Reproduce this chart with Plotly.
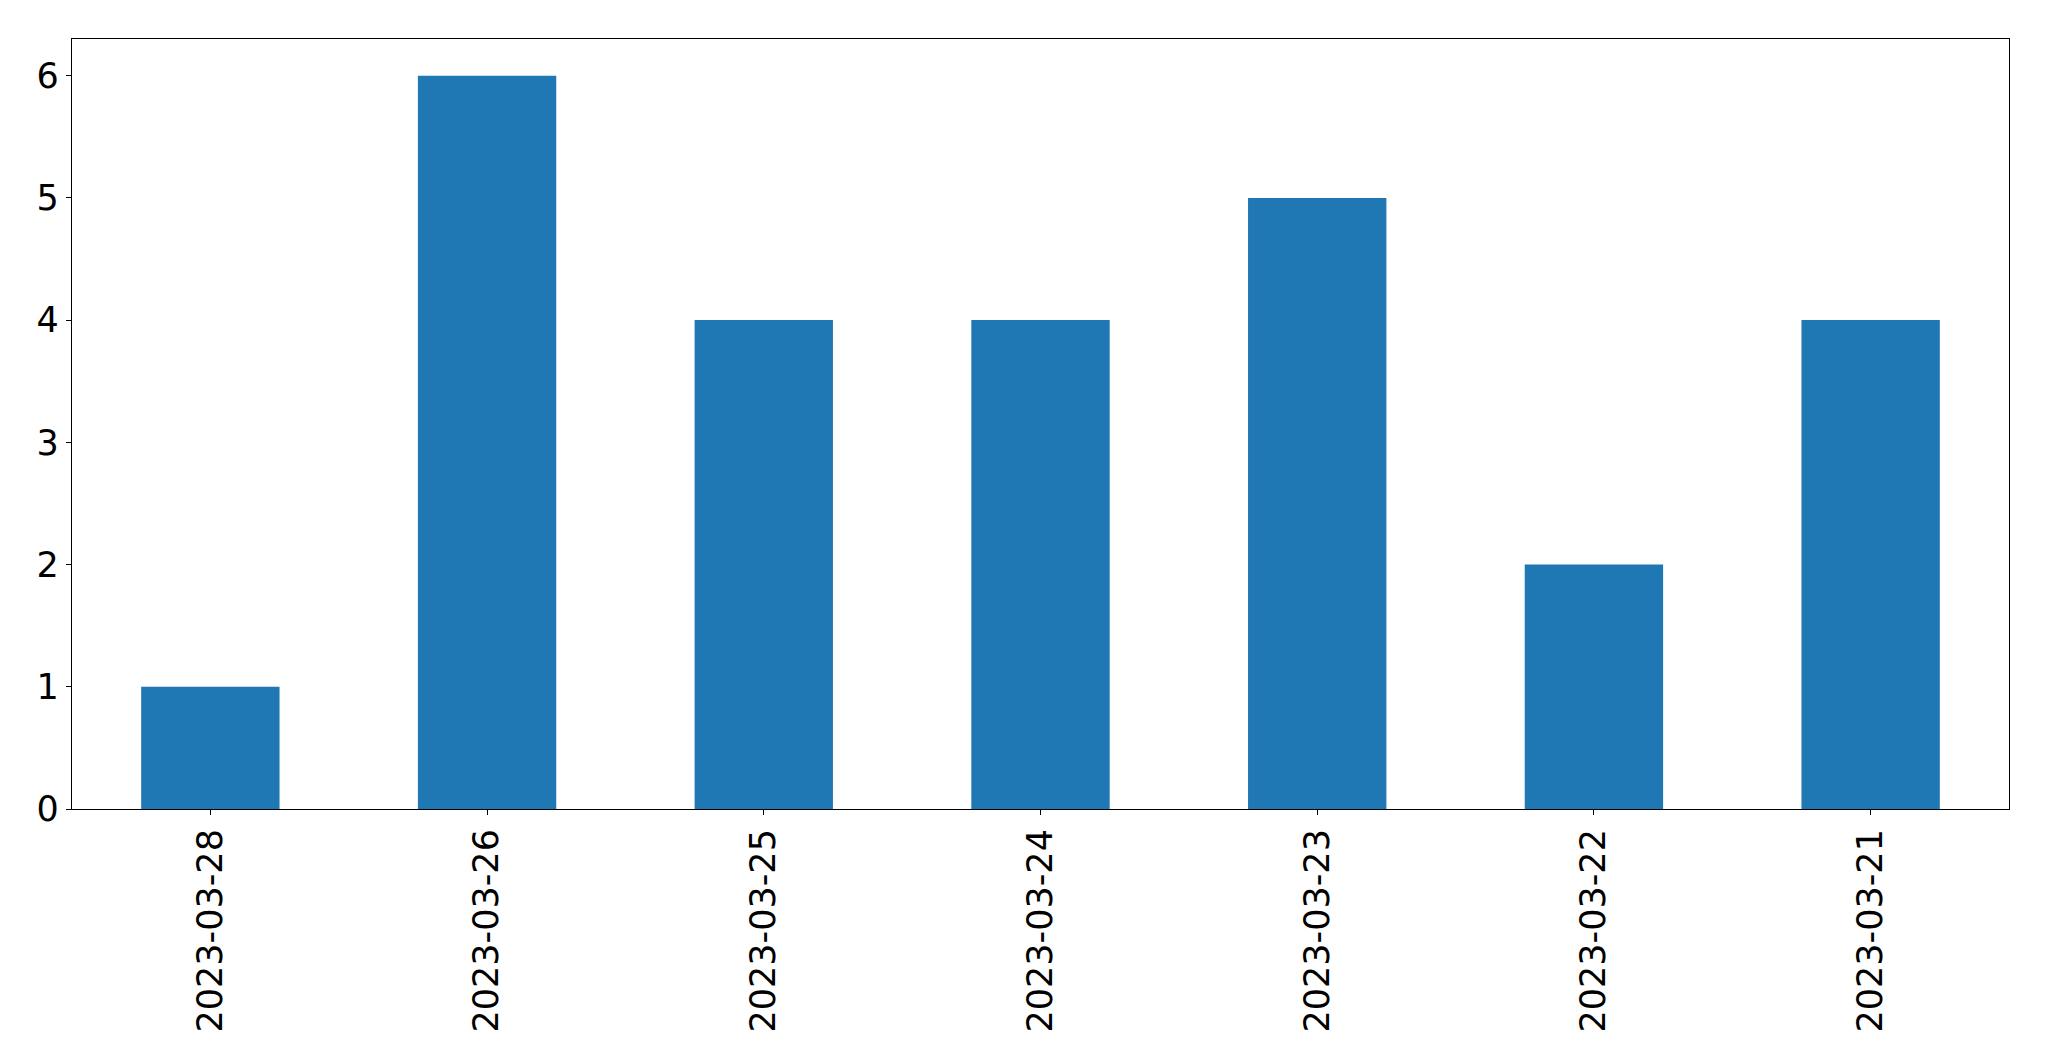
import plotly.graph_objects as go

dates = ["2023-03-28", "2023-03-26", "2023-03-25", "2023-03-24", "2023-03-23", "2023-03-22", "2023-03-21"]
counts = [1, 6, 4, 4, 5, 2, 4]

fig = go.Figure()
fig.add_trace(go.Bar(x=dates, y=counts, marker=dict(color="#1f77b4", line=dict(width=0)), width=0.5))

font = dict(family="DejaVu Sans", size=35, color="black")
fig.update_layout(
    width=2033, height=1045,
    margin=dict(l=64, r=32, t=31, b=244, autoexpand=False),
    paper_bgcolor="white", plot_bgcolor="white",
    showlegend=False,
    font=font,
)
fig.update_xaxes(
    type="category", range=[-0.5, 6.5],
    showline=True, mirror=True, linecolor="black", linewidth=1.2,
    ticks="outside", ticklen=5, tickwidth=1.2, tickcolor="black",
    tickangle=-90, tickfont=font, showgrid=False, zeroline=False,
    ticklabelstandoff=0,
)
fig.update_yaxes(
    range=[0, 6.3], tickvals=[0, 1, 2, 3, 4, 5, 6],
    showline=True, mirror=True, linecolor="black", linewidth=1.2,
    ticks="outside", ticklen=5, tickwidth=1.2, tickcolor="black",
    tickfont=font, showgrid=False, zeroline=False,
    ticklabelstandoff=0,
)
fig.write_html("out.html")
